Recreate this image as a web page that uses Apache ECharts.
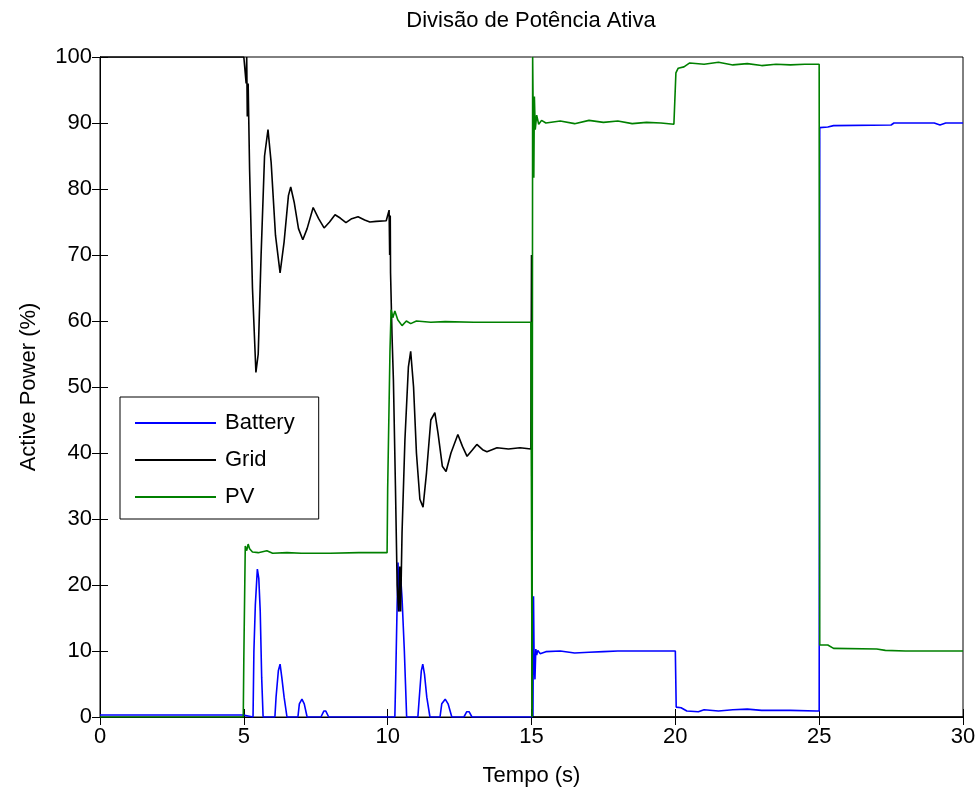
<!DOCTYPE html>
<html>
<head>
<meta charset="utf-8">
<script src="https://cdn.jsdelivr.net/npm/echarts@6/dist/echarts.min.js"></script>
<style>html,body{margin:0;padding:0;background:#fff}#c{width:980px;height:792px}</style>
</head>
<body>
<div id="c"></div>
<script>
// ---- data ----
const titleText = 'Divisão de Potência Ativa';
const xName = 'Tempo (s)';
const yName = 'Active Power (%)';
const seriesNames = ['Battery', 'Grid', 'PV'];
const xTicks = [0, 5, 10, 15, 20, 25, 30];
const yTicks = [0, 10, 20, 30, 40, 50, 60, 70, 80, 90, 100];

const gridT = [0, 5.0, 5.05, 5.08, 5.1, 5.12, 5.15, 5.2, 5.3, 5.42, 5.5, 5.6, 5.72, 5.84, 5.95, 6.1, 6.26, 6.4, 6.55, 6.63, 6.75, 6.9, 7.05, 7.2, 7.41, 7.6, 7.79, 7.98, 8.17, 8.35, 8.55, 8.75, 8.97, 9.2, 9.38, 9.6, 9.95, 10.0, 10.05, 10.07, 10.09, 10.1, 10.15, 10.2, 10.27, 10.33, 10.38, 10.42, 10.45, 10.5, 10.6, 10.72, 10.8, 10.9, 11.0, 11.12, 11.23, 11.35, 11.5, 11.64, 11.75, 11.9, 12.03, 12.2, 12.44, 12.6, 12.76, 12.95, 13.1, 13.3, 13.45, 13.8, 14.2, 14.6, 14.98, 15.0, 15.02, 30];
const gridV = [100, 100, 100, 96, 100, 91, 96, 83, 65, 52.2, 55, 70, 85, 89.0, 84, 73, 67.3, 72, 79, 80.3, 78, 74, 72.3, 74, 77.2, 75.5, 74.1, 75, 76.1, 75.6, 74.9, 75.5, 75.8, 75.3, 75.0, 75.1, 75.2, 75.2, 76.8, 70, 76, 67.3, 58, 51, 35, 20, 16, 22.8, 16, 28, 42, 53, 55.4, 50, 40, 33, 31.8, 37, 45, 46.1, 43, 38, 37.2, 40, 42.8, 41, 39.5, 40.5, 41.3, 40.5, 40.2, 40.8, 40.6, 40.8, 40.6, 70, 0, 0];

const pvT = [0, 4.98, 5.0, 5.03, 5.05, 5.1, 5.15, 5.2, 5.3, 5.5, 5.8, 6.0, 6.5, 7.0, 8.0, 9.0, 9.98, 10.0, 10.05, 10.08, 10.12, 10.18, 10.25, 10.35, 10.5, 10.65, 10.8, 11.0, 11.5, 12.0, 13.0, 14.0, 14.98, 15.0, 15.02, 15.04, 15.08, 15.1, 15.13, 15.18, 15.25, 15.35, 15.5, 16.0, 16.5, 17.0, 17.5, 18.0, 18.5, 19.0, 19.5, 19.95, 20.0, 20.02, 20.1, 20.3, 20.5, 21.0, 21.5, 22.0, 22.5, 23.0, 23.5, 24.0, 24.5, 25.0, 25.02, 25.3, 25.5, 27.0, 27.3, 28.0, 30];
const pvV = [0, 0, 9, 9, 25.9, 25.2, 26.2, 25.5, 25.0, 24.9, 25.2, 24.8, 24.9, 24.8, 24.8, 24.9, 24.9, 34.5, 34.5, 55.4, 61.7, 60.5, 61.5, 60.2, 59.3, 60.0, 59.6, 60.0, 59.8, 59.9, 59.8, 59.8, 59.8, 30, 0, 100, 81.7, 94, 89, 91.2, 89.8, 90.4, 90.0, 90.3, 89.9, 90.4, 90.1, 90.3, 89.9, 90.1, 90.0, 89.8, 90.0, 97.6, 98.3, 98.5, 99.1, 98.9, 99.2, 98.8, 99.0, 98.7, 98.9, 98.8, 98.9, 98.9, 10.9, 10.9, 10.4, 10.3, 10.1, 10.0, 10.0];

const batT = [0, 4.98, 5.0, 5.32, 5.35, 5.4, 5.47, 5.52, 5.57, 5.62, 5.67, 6.08, 6.12, 6.2, 6.26, 6.32, 6.4, 6.5, 6.88, 6.93, 7.02, 7.1, 7.2, 7.68, 7.78, 7.85, 7.95, 8.5, 8.55, 8.6, 10.25, 10.28, 10.32, 10.36, 10.4, 10.44, 10.5, 10.58, 10.62, 10.66, 11.05, 11.1, 11.17, 11.22, 11.28, 11.36, 11.47, 11.82, 11.88, 12.0, 12.1, 12.23, 12.65, 12.75, 12.83, 12.93, 15.05, 15.07, 15.09, 15.12, 15.15, 15.18, 15.22, 15.3, 15.5, 16.0, 16.5, 17.0, 17.5, 18.0, 19.0, 20.0, 20.03, 20.2, 20.4, 20.8, 21.0, 21.5, 22.0, 22.5, 23.0, 24.0, 24.9, 25.0, 25.02, 25.3, 25.5, 27.5, 27.6, 29.0, 29.2, 29.4, 30];
const batV = [0.3, 0.3, 0, 0, 10, 17, 22.4, 21, 16, 6, 0, 0, 3, 7.0, 8.0, 6.0, 3, 0, 0, 2, 2.7, 2.0, 0, 0, 0.9, 0.9, 0, 0, 0.2, 0, 0, 6, 15, 23.4, 16, 22, 18, 10, 5, 0, 0, 3, 7, 8.0, 6.5, 3, 0, 0, 2, 2.7, 2, 0, 0, 0.8, 0.8, 0, 0, 18.3, 9.0, 5.7, 10.3, 9.4, 10.1, 9.6, 9.9, 10.0, 9.7, 9.8, 9.9, 10.0, 10.0, 10.0, 1.5, 1.4, 0.9, 0.8, 1.1, 0.9, 1.1, 1.2, 1.0, 1.0, 0.9, 0.9, 89.3, 89.4, 89.6, 89.7, 90.0, 90.0, 89.7, 90.0, 90.0];

const colors = ['#0000ff', '#000000', '#008000'];

function pairs(t, v) { return t.map((x, i) => [x, v[i]]); }

const chart = echarts.init(document.getElementById('c'), null, { renderer: 'canvas' });
const FONT = 'Liberation Sans';
const axisCommon = {
  axisLine: { show: true, lineStyle: { color: '#000', width: 1 } },
  axisTick: { show: true, inside: true, length: 8, lineStyle: { color: '#000' } },
  splitLine: { show: false }
};
const option = {
  animation: false,
  backgroundColor: '#fff',
  title: {
    text: titleText, left: 531, top: 10, textAlign: 'center', padding: 0,
    textStyle: { fontFamily: FONT, fontSize: 22, fontWeight: 'normal', color: '#000' }
  },
  legend: {
    data: seriesNames, orient: 'vertical', left: 120, top: 397,
    icon: 'rect',
    backgroundColor: '#fff', borderColor: '#000', borderWidth: 1,
    padding: [15, 24, 11, 15], itemWidth: 81, itemHeight: 2, itemGap: 15,
    textStyle: { fontFamily: FONT, fontSize: 22, color: '#000', padding: [0, 0, 0, 4] }
  },
  grid: { left: 100, right: 17, top: 57, bottom: 74, show: true, borderColor: '#000', borderWidth: 1, containLabel: false },
  xAxis: [
    Object.assign({
      type: 'value', min: xTicks[0], max: xTicks[xTicks.length - 1], interval: 5, position: 'bottom',
      name: xName, nameLocation: 'middle', nameGap: 48,
      nameTextStyle: { fontFamily: FONT, fontSize: 22, color: '#000' },
      axisLabel: { fontFamily: FONT, fontSize: 22, color: '#000', margin: 9 }
    }, axisCommon),
    Object.assign({
      type: 'value', min: xTicks[0], max: xTicks[xTicks.length - 1], interval: 5, position: 'top',
      axisLabel: { show: false }
    }, axisCommon)
  ],
  yAxis: [
    Object.assign({
      type: 'value', min: yTicks[0], max: yTicks[yTicks.length - 1], interval: 10, position: 'left',
      name: yName, nameLocation: 'middle', nameGap: 60,
      nameTextStyle: { fontFamily: FONT, fontSize: 22, color: '#000' },
      axisLabel: { fontFamily: FONT, fontSize: 22, color: '#000', margin: 8 }
    }, axisCommon),
    Object.assign({
      type: 'value', min: yTicks[0], max: yTicks[yTicks.length - 1], interval: 10, position: 'right',
      axisLabel: { show: false }
    }, axisCommon)
  ],
  series: [
    { name: seriesNames[0], type: 'line', data: pairs(batT, batV), symbol: 'none', color: colors[0], lineStyle: { width: 1.6, color: colors[0] }, z: 2 },
    { name: seriesNames[1], type: 'line', data: pairs(gridT, gridV), symbol: 'none', color: colors[1], lineStyle: { width: 1.6, color: colors[1] }, z: 3 },
    { name: seriesNames[2], type: 'line', data: pairs(pvT, pvV), symbol: 'none', color: colors[2], lineStyle: { width: 1.6, color: colors[2] }, z: 4 }
  ]
};
chart.setOption(option);
</script>
</body>
</html>
